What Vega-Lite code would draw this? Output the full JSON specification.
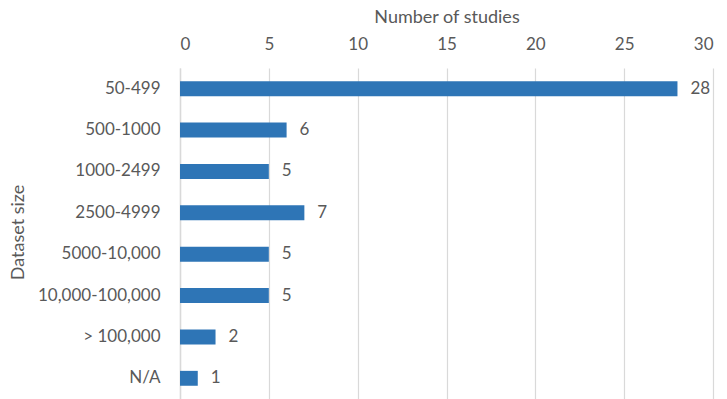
{
  "$schema": "https://vega.github.io/schema/vega-lite/v6.json",
  "width": 533,
  "height": 331,
  "autosize": "none",
  "padding": {"left": 180, "top": 68, "right": 14, "bottom": 0},
  "background": "white",
  "config": {
    "view": {"stroke": null},
    "font": "Lato",
    "text": {"font": "Lato"}
  },
  "data": {
    "values": [
      {"size": "50-499", "count": 28},
      {"size": "500-1000", "count": 6},
      {"size": "1000-2499", "count": 5},
      {"size": "2500-4999", "count": 7},
      {"size": "5000-10,000", "count": 5},
      {"size": "10,000-100,000", "count": 5},
      {"size": "> 100,000", "count": 2},
      {"size": "N/A", "count": 1}
    ]
  },
  "encoding": {
    "y": {
      "field": "size",
      "type": "nominal",
      "sort": null,
      "scale": {"paddingInner": 0.64, "paddingOuter": 0.32},
      "axis": {
        "title": "Dataset size",
        "titleFont": "Lato",
        "titleFontSize": 18,
        "titleFontWeight": "normal",
        "titleColor": "#595959",
        "titleX": -162,
        "titleY": 164,
        "titleAngle": -90,
        "titleAlign": "center",
        "titleBaseline": "middle",
        "labelFont": "Lato",
        "labelFontSize": 17,
        "labelColor": "#595959",
        "labelPadding": 20,
        "ticks": false,
        "domain": true,
        "domainColor": "#d9d9d9",
        "domainWidth": 1.5
      }
    },
    "x": {
      "field": "count",
      "type": "quantitative",
      "scale": {"domain": [0, 30]},
      "axis": {
        "orient": "top",
        "title": "Number of studies",
        "titleFont": "Lato",
        "titleFontSize": 18,
        "titleFontWeight": "normal",
        "titleColor": "#595959",
        "titleY": -51,
        "titleBaseline": "middle",
        "values": [0, 5, 10, 15, 20, 25, 30],
        "labelFont": "Lato",
        "labelFontSize": 17,
        "labelColor": "#595959",
        "labelPadding": 15,
        "ticks": false,
        "domain": false,
        "grid": true,
        "gridColor": "#d9d9d9",
        "gridWidth": 1.2
      }
    }
  },
  "layer": [
    {"mark": {"type": "bar", "color": "#2E75B6"}},
    {
      "mark": {"type": "text", "align": "left", "baseline": "middle", "dx": 13, "fontSize": 17, "color": "#595959", "font": "Lato"},
      "encoding": {"text": {"field": "count", "type": "quantitative"}}
    }
  ]
}
